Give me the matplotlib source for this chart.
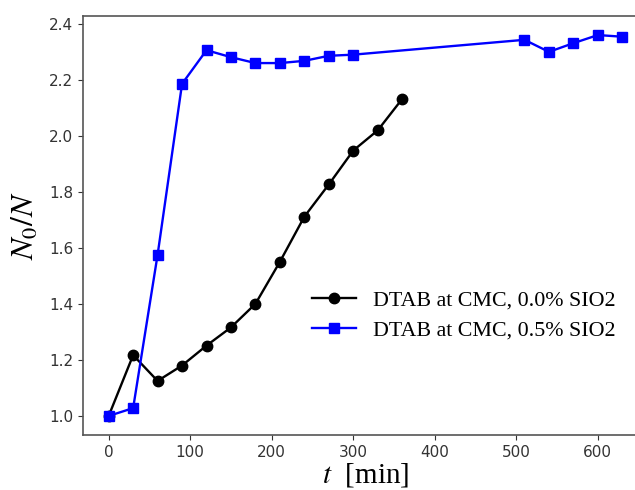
import matplotlib
matplotlib.use("Agg")
import matplotlib.pyplot as plt

t_pure = [0, 30, 60, 90, 120, 150, 180, 210, 240, 270, 300, 330, 360]
n_pure = [1.0, 1.217, 1.125, 1.18, 1.251, 1.316, 1.40, 1.55, 1.711, 1.826, 1.947, 2.019, 2.131]

t_sio2 = [0, 30, 60, 90, 120, 150, 180, 210, 240, 270, 300, 510, 540, 570, 600, 630]
n_sio2 = [1.0, 1.028, 1.575, 2.185, 2.305, 2.28, 2.259, 2.259, 2.267, 2.285, 2.289,
          2.342, 2.299, 2.33, 2.359, 2.353]

labels = ["DTAB at CMC, 0.0% SIO2", "DTAB at CMC, 0.5% SIO2"]

plt.rcParams["mathtext.fontset"] = "stix"

fig = plt.figure(figsize=(6.35, 4.9), dpi=100)
# right edge of the axes runs past the figure, like the cropped original
ax = fig.add_axes([83 / 635, 55 / 490, 565 / 635, 419 / 490])

ax.plot(t_pure, n_pure, color="black", marker="o", lw=1.7, ms=7.5, label=labels[0])
ax.plot(t_sio2, n_sio2, color="blue", marker="s", lw=1.7, ms=7.5, label=labels[1])

ax.set_xticks([0, 100, 200, 300, 400, 500, 600])
ax.set_yticks([1.0, 1.2, 1.4, 1.6, 1.8, 2.0, 2.2, 2.4])
ax.tick_params(labelsize=11, colors="#333333")
for s in ax.spines.values():
    s.set_color("#555555")
    s.set_linewidth(1.2)

ax.set_xlabel("$t$  [min]", fontsize=21, family="Liberation Serif", labelpad=1)
ax.set_ylabel("$N_0/N$", fontsize=23, family="Liberation Serif", labelpad=6)

ax.legend(loc="center left", bbox_to_anchor=(0.37, 0.285), frameon=False,
          handletextpad=0.8, labelspacing=0.42,
          prop={"family": "Liberation Serif", "size": 15.8})

fig.savefig("out.png", dpi=100)
